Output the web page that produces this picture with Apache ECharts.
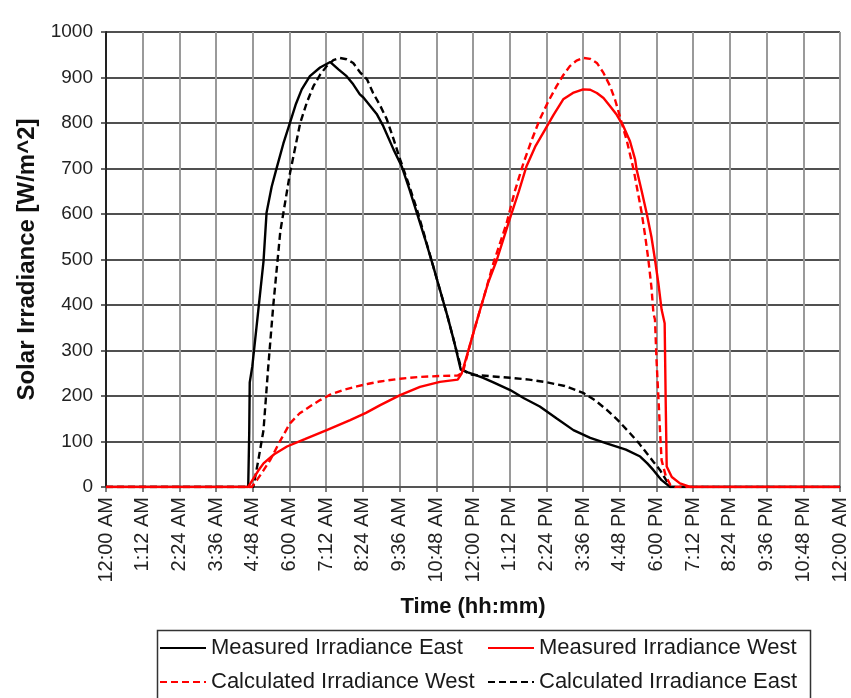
<!DOCTYPE html>
<html><head><meta charset="utf-8">
<script src="https://cdn.jsdelivr.net/npm/echarts@6/dist/echarts.min.js"></script>
<style>html,body{margin:0;padding:0;background:#fff}#c{width:851px;height:698px}</style>
</head><body><div id="c"></div>
<script>
// time in minutes after midnight, irradiance W/m^2
var xTickMinutes = [0,72,144,216,288,360,432,504,576,648,720,792,864,936,1008,1080,1152,1224,1296,1368,1440];
var measuredEast = [[0,0],[279,0],[281,120],[282,230],[287,265],[298,380],[309,496],[315,603],[325,660],[335,702],[348,755],[361,801],[372,840],[384,874],[400,903],[420,922],[440,934],[456,918],[472,903],[485,885],[498,863],[505,856],[518,838],[531,820],[544,793],[564,742],[580,705],[595,655],[610,602],[626,545],[642,485],[656,430],[670,375],[684,315],[696,258],[710,252],[720,248],[740,240],[760,230],[793,213],[820,195],[851,177],[885,150],[917,125],[950,108],[982,96],[1020,82],[1048,67],[1062,52],[1074,37],[1090,15],[1107,0],[1440,0]];
var calculatedEast = [[0,0],[289,0],[299,60],[309,125],[318,260],[328,397],[342,562],[361,690],[381,800],[394,845],[407,881],[420,906],[433,925],[446,938],[459,943],[472,940],[485,932],[498,912],[512,896],[524,866],[538,838],[551,808],[564,765],[577,720],[594,665],[610,610],[626,548],[642,485],[656,430],[670,375],[684,315],[697,260],[714,247],[760,243],[793,240],[830,236],[865,230],[900,222],[936,207],[960,190],[982,170],[1005,146],[1028,118],[1045,97],[1061,74],[1075,54],[1087,37],[1098,17],[1107,0],[1440,0]];
var measuredWest = [[0,0],[279,0],[290,20],[300,38],[309,52],[330,72],[355,89],[390,105],[433,125],[479,147],[510,163],[538,180],[577,202],[616,220],[655,231],[690,236],[698,250],[716,320],[734,390],[750,450],[767,500],[793,592],[810,650],[825,705],[842,748],[858,779],[878,818],[897,852],[916,866],[936,874],[950,873],[963,866],[976,855],[989,837],[1002,818],[1015,793],[1028,760],[1038,720],[1041,698],[1051,650],[1061,600],[1070,550],[1077,500],[1084,445],[1090,390],[1096,360],[1098,191],[1100,45],[1110,22],[1126,8],[1146,0],[1440,0]];
var calculatedWest = [[0,0],[286,0],[296,15],[308,35],[322,59],[340,98],[361,140],[380,162],[400,177],[420,191],[440,203],[465,213],[492,221],[515,227],[538,232],[577,238],[616,242],[655,244],[690,245],[700,252],[716,320],[734,390],[747,440],[760,492],[786,580],[802,650],[819,712],[835,762],[851,808],[868,848],[884,881],[897,905],[910,925],[923,937],[936,943],[950,941],[963,932],[976,910],[989,881],[999,850],[1008,815],[1022,760],[1035,698],[1043,650],[1051,602],[1058,550],[1064,500],[1070,440],[1074,382],[1077,368],[1080,280],[1084,191],[1087,120],[1090,59],[1098,25],[1107,5],[1116,0],[1440,0]];
var seriesNames = ['Measured Irradiance East','Calculated Irradiance East','Calculated Irradiance West','Measured Irradiance West'];

function fmtTime(m){
  var h = Math.floor(m/60) % 24, mm = Math.round(m % 60);
  var ap = h < 12 ? 'AM' : 'PM';
  var h12 = h % 12 === 0 ? 12 : h % 12;
  return h12 + ':' + (mm < 10 ? '0' + mm : mm) + ' ' + ap;
}
var FONT = 'Liberation Sans';
var chart = echarts.init(document.getElementById('c'), null, {renderer:'canvas'});
var dash = [7,4];
var LW = 2.4;
var legendCommon = {orient:'vertical', top:637, itemGap:12, itemWidth:46, itemHeight:14,
  itemStyle:{opacity:0, borderWidth:0},
  textStyle:{fontFamily:FONT, fontSize:22, color:'#1a1a1a'}, padding:0};
chart.setOption({
  backgroundColor:'#fff',
  animation:false,
  grid:{left:106, right:11, top:32, bottom:211, containLabel:false},
  xAxis:{
    type:'value', min:0, max:1440, interval:72,
    name:'Time (hh:mm)', nameLocation:'middle', nameGap:109,
    nameTextStyle:{fontFamily:FONT, fontSize:22, fontWeight:'bold', color:'#111'},
    axisLine:{show:true, lineStyle:{color:'#555', width:2}},
    axisTick:{show:true, length:5, lineStyle:{color:'#555', width:1.5}},
    axisLabel:{rotate:90, margin:10, fontFamily:FONT, fontSize:20, color:'#222', formatter:function(v){return fmtTime(v);}},
    splitLine:{show:true, lineStyle:{color:'#9a9a9a', width:2}}
  },
  yAxis:{
    type:'value', min:0, max:1000, interval:100,
    name:'Solar Irradiance [W/m^2]', nameLocation:'middle', nameGap:58,
    nameTextStyle:{fontFamily:FONT, fontSize:24, fontWeight:'bold', color:'#111'},
    axisLine:{show:true, lineStyle:{color:'#222', width:2}},
    axisTick:{show:true, length:5, lineStyle:{color:'#333', width:1.5}},
    axisLabel:{margin:13, fontFamily:FONT, fontSize:19, color:'#222', formatter:function(v){return String(v);}},
    splitLine:{show:true, lineStyle:{color:'#505050', width:2}}
  },
  legend:[
    Object.assign({data:[seriesNames[0], seriesNames[2]], left:159}, legendCommon),
    Object.assign({data:[seriesNames[3], seriesNames[1]], left:487}, legendCommon)
  ],
  graphic:[{type:'rect', left:155, top:628, shape:{x:0,y:0,width:653,height:90}, style:{fill:'none', stroke:'#333', lineWidth:1.5}, silent:true}],
  series:[
    {name:seriesNames[0], type:'line', data:measuredEast, showSymbol:false, symbol:'none', lineStyle:{color:'#000', width:LW}, itemStyle:{color:'#000'}},
    {name:seriesNames[1], type:'line', data:calculatedEast, showSymbol:false, symbol:'none', lineStyle:{color:'#000', width:LW, type:dash}, itemStyle:{color:'#000'}},
    {name:seriesNames[2], type:'line', data:calculatedWest, showSymbol:false, symbol:'none', lineStyle:{color:'#ff0000', width:LW, type:dash}, itemStyle:{color:'#ff0000'}},
    {name:seriesNames[3], type:'line', data:measuredWest, showSymbol:false, symbol:'none', lineStyle:{color:'#ff0000', width:LW}, itemStyle:{color:'#ff0000'}}
  ]
});
</script></body></html>
